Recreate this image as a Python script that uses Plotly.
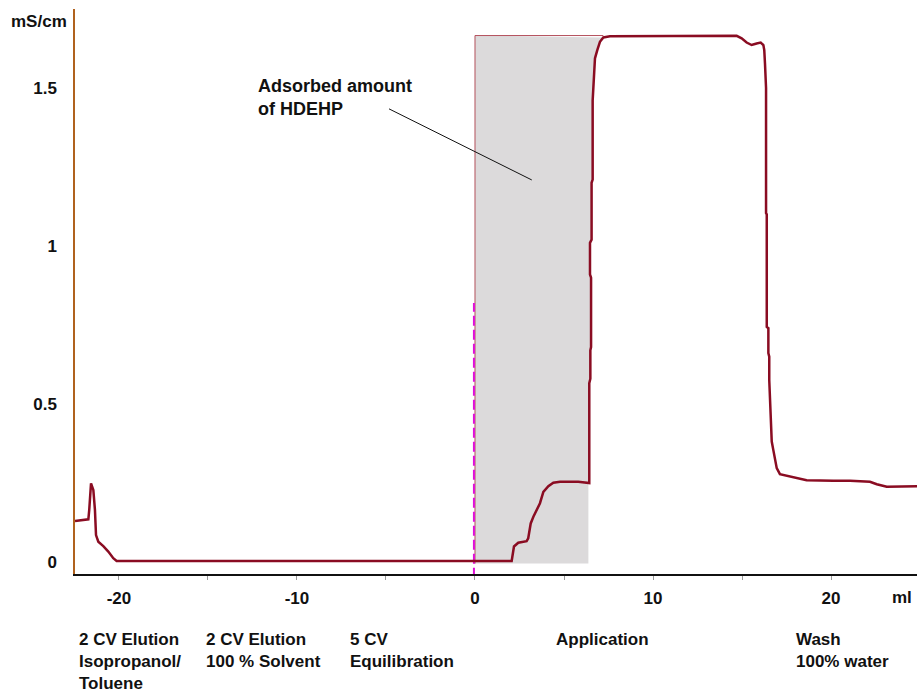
import plotly.graph_objects as go

# conductivity trace (ml vs mS/cm)
volume_ml = [
    -22.47, -21.72, -21.67, -21.57, -21.44, -21.35, -21.29, -21.16, -20.88,
    -20.6, -20.32, -20.13, 2.06, 2.19, 2.43, 2.9, 2.99, 3.13, 3.28, 3.65,
    3.84, 4.12, 4.4, 4.78, 5.8, 6.37, 6.42, 6.42, 6.48, 6.48, 6.52, 6.52,
    6.46, 6.46, 6.55, 6.55, 6.61, 6.61, 6.65, 6.74, 6.87, 7.02, 7.21, 7.58,
    14.7, 14.98, 15.26, 15.54, 15.82, 16.05, 16.2, 16.25, 16.29, 16.35,
    16.35, 16.39, 16.39, 16.48, 16.48, 16.53, 16.53, 16.61, 16.67, 16.76,
    16.85, 16.95, 17.13, 17.51, 18.07, 18.63, 20.13, 21.07, 22.19, 22.57,
    23.13, 23.88, 24.72, 24.83,
]
conductivity = [
    0.13, 0.135, 0.165, 0.249, 0.228, 0.165, 0.085, 0.064, 0.05, 0.033,
    0.012, 0.003, 0.003, 0.049, 0.061, 0.066, 0.075, 0.122, 0.143, 0.186,
    0.222, 0.24, 0.251, 0.254, 0.254, 0.249, 0.25, 0.566, 0.58, 0.67, 0.68,
    0.9, 0.91, 1.01, 1.02, 1.2, 1.21, 1.46, 1.504, 1.594, 1.62, 1.646, 1.66,
    1.664, 1.665, 1.657, 1.644, 1.636, 1.641, 1.644, 1.636, 1.62, 1.578,
    1.5, 1.104, 1.1, 0.744, 0.74, 0.661, 0.65, 0.576, 0.486, 0.381, 0.354,
    0.323, 0.297, 0.278, 0.273, 0.268, 0.259, 0.257, 0.257, 0.254, 0.246,
    0.238, 0.238, 0.24, 0.24,
]

# adsorbed area: from injection (0 ml) up to the breakthrough front
shade_start = 0
shade_top = 1.666
shade_bottom = -0.005
front_from, front_to = 6.3, 7.25

x_ticks = [-20, -15, -10, -5, 0, 5, 10, 15, 20]
x_tick_text = ["-20", "", "-10", "", "0", "", "10", "", "20"]
y_ticks = [0, 0.5, 1, 1.5]
y_tick_text = ["0", "0.5", "1", "1.5"]

# step labels under the axis (x position in ml, text)
steps = [
    (-22.3, "2 CV Elution<br>Isopropanol/<br>Toluene"),
    (-15.15, "2 CV Elution<br>100 % Solvent"),
    (-7.1, "5 CV<br>Equilibration"),
    (4.5, "Application"),
    (18.0, "Wash<br>100% water"),
]

pointer_start = (-4.83, 1.434)
pointer_end = (3.19, 1.209)

FONT = "Liberation Sans, Arial, sans-serif"
CURVE = "#8a0c22"

front = [(x, y) for x, y in zip(volume_ml, conductivity)
         if front_from <= x <= front_to and y >= 0.24]
front.reverse()
shade_x = [shade_start, shade_start] + [p[0] for p in front] + [front[-1][0]]
shade_y = [shade_bottom, shade_top] + [p[1] for p in front] + [shade_bottom]

fig = go.Figure()
fig.add_trace(go.Scatter(x=shade_x, y=shade_y, fill="toself", mode="lines",
                         fillcolor="#dcdadb", line=dict(width=0),
                         hoverinfo="skip"))
fig.add_trace(go.Scatter(x=[shade_start, shade_start, front[0][0]],
                         y=[shade_bottom, shade_top, shade_top],
                         mode="lines", line=dict(color="#b4505c", width=1),
                         hoverinfo="skip"))
fig.add_trace(go.Scatter(x=[-0.06, -0.06], y=[-0.05, 0.82], mode="lines",
                         line=dict(color="#e010d8", width=2, dash="10px,4px"),
                         cliponaxis=False, hoverinfo="skip"))
fig.add_trace(go.Scatter(x=volume_ml, y=conductivity, mode="lines",
                         line=dict(color=CURVE, width=2.5)))

fig.add_shape(type="line", x0=pointer_start[0], y0=pointer_start[1],
              x1=pointer_end[0], y1=pointer_end[1],
              line=dict(color="#111111", width=1))

tick_font = dict(family=FONT, size=17, color="#111111", weight="bold")
txt = dict(family=FONT, size=18, color="#111111", weight="bold")
step_font = dict(family=FONT, size=17, color="#111111", weight="bold")

fig.add_annotation(x=-12.3, y=1.395, xref="x", yref="y", xanchor="left",
                   yanchor="bottom", align="left", showarrow=False,
                   text="Adsorbed amount<br>of HDEHP", font=txt)

for xpos, label in steps:
    fig.add_annotation(x=xpos, y=-0.097, xref="x", yref="paper",
                       xanchor="left", yanchor="top", align="left",
                       showarrow=False, borderpad=0, text=label,
                       font=step_font)

fig.add_annotation(x=0.982, y=-0.042, xref="paper", yref="paper",
                   xanchor="center", yanchor="middle", showarrow=False,
                   text="ml", font=tick_font)
fig.add_annotation(x=-0.043, y=0.977, xref="paper", yref="paper",
                   xanchor="center", yanchor="middle", showarrow=False,
                   text="mS/cm", font=tick_font)

fig.update_layout(
    width=917, height=696,
    margin=dict(l=75, r=0, t=9, b=122),
    paper_bgcolor="white", plot_bgcolor="white",
    showlegend=False,
    font=tick_font,
)
fig.update_xaxes(range=[-22.47, 24.83], tickvals=x_ticks, ticktext=x_tick_text,
                 showgrid=False, zeroline=False, showline=True,
                 linecolor="#111111", linewidth=2, ticks="outside",
                 ticklen=4, tickcolor="#9a9a9a", tickwidth=1,
                 ticklabelstandoff=4, tickfont=tick_font)
fig.update_yaxes(range=[-0.038, 1.75], tickvals=y_ticks, ticktext=y_tick_text,
                 showgrid=False, zeroline=False, showline=True,
                 linecolor="#b0621e", linewidth=1.5, ticks="",
                 ticklabelstandoff=13, tickfont=tick_font)

fig.write_html("out.html", config={"displayModeBar": False},
               post_script="document.body.style.margin='0';"
                           "document.body.style.overflow='hidden';")
